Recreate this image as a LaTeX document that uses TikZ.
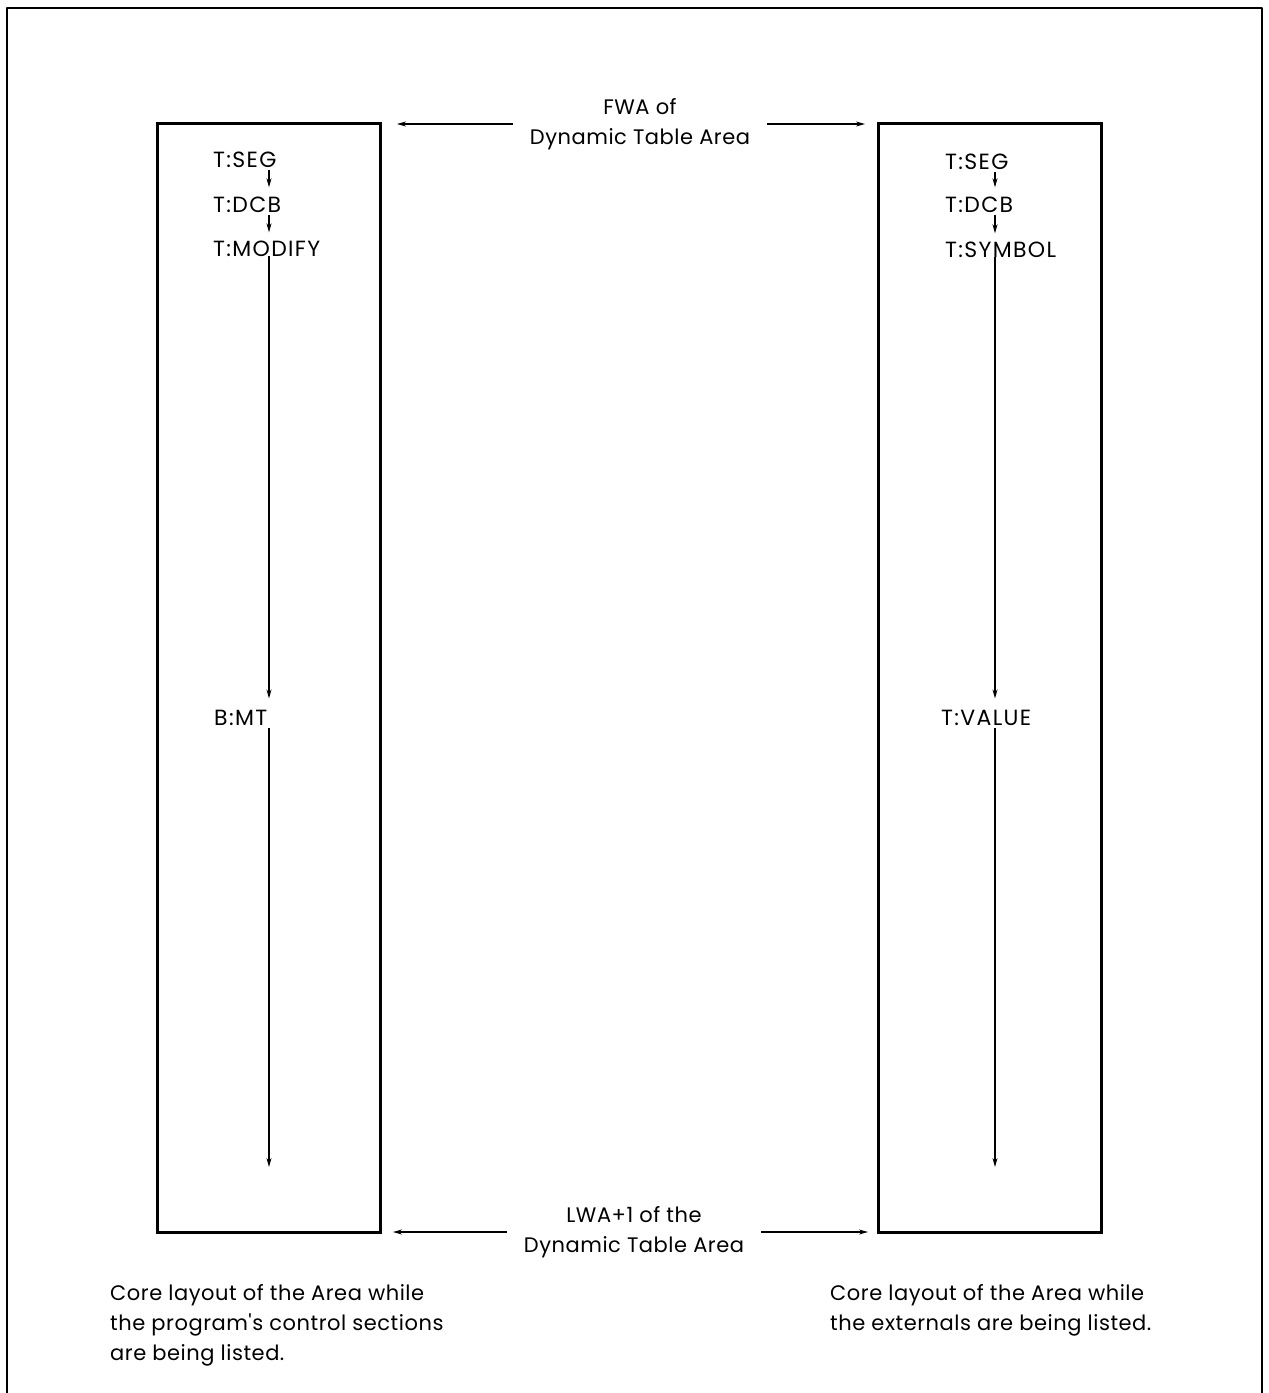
\documentclass[tikz,border=0pt]{standalone}
\usepackage{fontspec}
\setmainfont{Poppins}[Ligatures=TeXOff]
\newfontfamily\labelfont{Poppins}[Ligatures=TeXOff, LetterSpace=2.5]
\newfontfamily\tagfont{Poppins}[Ligatures=TeXOff, LetterSpace=6]
\usetikzlibrary{arrows.meta}
\begin{document}
\begin{tikzpicture}[x=1pt,y=-1pt,
  txt/.style={font=\labelfont\fontsize{21}{30}\selectfont, inner sep=0pt},
  tag/.style={font=\tagfont\fontsize{22}{30}\selectfont, inner sep=0pt, anchor=base west},
  mid/.style={txt, align=center, inner xsep=17pt},
  captext/.style={txt, align=left, anchor=north west},
  frame/.style={line width=2.6pt, line join=round},
  box/.style={draw, line width=3pt, inner sep=0pt, minimum width=223pt, minimum height=1109pt},
  arr/.style={-{Stealth[length=9pt,width=5pt]}, line width=1.1pt}]
\useasboundingbox (0,0) rectangle (1269,1393);
% outer frame
\draw[frame] (7,1393) -- (7,8) -- (1262,8) -- (1262,1393);
% boxes
\node[box] (boxL) at (268.5,677.5) {};
\node[box] (boxR) at (990,677.5) {};
% left chain
\coordinate (axL) at (269,0);
\node[tag] (segL) at (213,167) {T:SEG};
\node[tag] (dcbL) at (213,212) {T:DCB};
\node[tag] (modL) at (213,256) {T:MODIFY};
\node[tag] (bmtL) at (214,725) {B:MT};
\coordinate (endL) at (269,1167);
\draw[arr, shorten <=3pt, shorten >=9pt] (segL.south -| axL) -- (dcbL.north -| axL);
\draw[arr, shorten <=3pt, shorten >=8pt] (dcbL.south -| axL) -- (modL.north -| axL);
\draw[arr, shorten >=11pt] (modL.south -| axL) -- (bmtL.north -| axL);
\draw[arr, shorten <=3pt] (bmtL.south -| axL) -- (endL);
% right chain
\coordinate (axR) at (995,0);
\node[tag] (segR) at (945,169) {T:SEG};
\node[tag] (dcbR) at (945,212) {T:DCB};
\node[tag] (symR) at (945,257) {T:SYMBOL};
\node[tag] (valR) at (941,725) {T:VALUE};
\coordinate (endR) at (995,1167);
\draw[arr, shorten <=3pt, shorten >=9pt] (segR.south -| axR) -- (dcbR.north -| axR);
\draw[arr, shorten <=3pt, shorten >=8pt] (dcbR.south -| axR) -- (symR.north -| axR);
\draw[arr, shorten >=11pt] (symR.south -| axR) -- (valR.north -| axR);
\draw[arr, shorten <=3pt] (valR.south -| axR) -- (endR);
% top label
\node[mid] (fwa) at (640,124) {FWA of\\Dynamic Table Area};
\coordinate (fL) at (397,124);
\coordinate (fR) at (865,124);
\draw[arr] (fwa.west) -- (fL);
\draw[arr] (fwa.east) -- (fR);
% bottom label
\node[mid] (lwa) at (634,1232) {LWA+1 of the\\Dynamic Table Area};
\coordinate (lL) at (393,1232);
\coordinate (lR) at (868,1232);
\draw[arr] (lwa.west) -- (lL);
\draw[arr] (lwa.east) -- (lR);
% captions
\node[captext] (capL) at (110,1284) {Core layout of the Area while\\the program's control sections\\are being listed.};
\node[captext] (capR) at (830,1284) {Core layout of the Area while\\the externals are being listed.};
\end{tikzpicture}
\end{document}
